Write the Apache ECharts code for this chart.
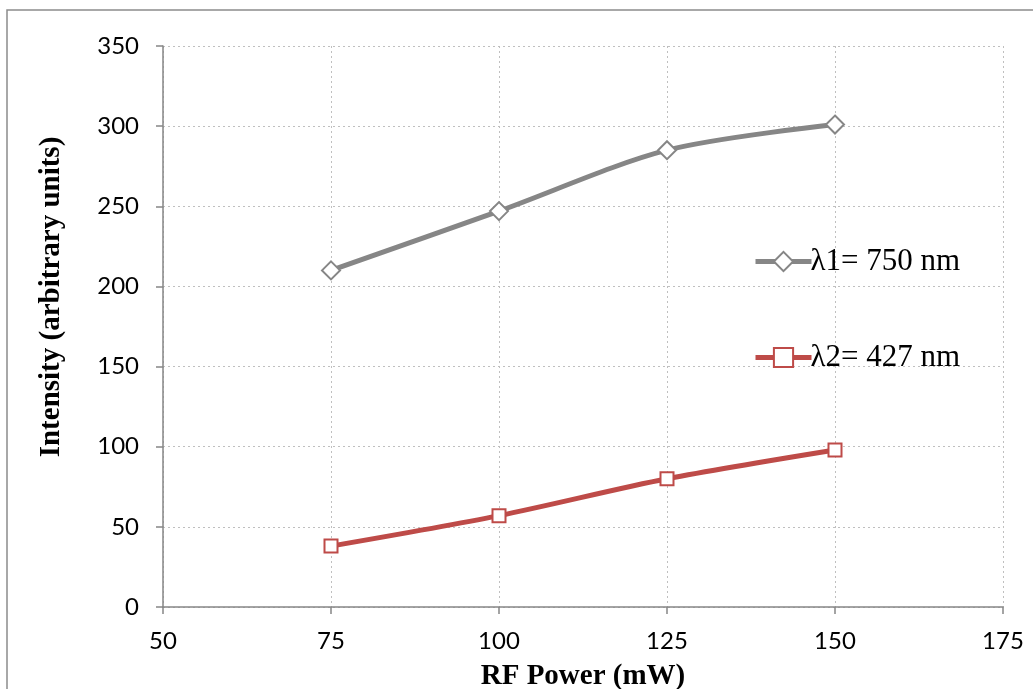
<!DOCTYPE html>
<html><head><meta charset="utf-8">
<script src="https://cdn.jsdelivr.net/npm/echarts@6/dist/echarts.min.js"></script>
<style>html,body{margin:0;padding:0;background:#fff}#c{width:1033px;height:689px}</style>
</head><body><div id="c"></div>
<script>
const rfPower = [75, 100, 125, 150];
const lambda1 = [210, 247, 285, 301];
const lambda2 = [38, 57, 80, 98];
const seriesNames = ['λ1= 750 nm', 'λ2= 427 nm'];
const xTitle = 'RF Power (mW)';
const yTitle = 'Intensity (arbitrary units)';

const chart = echarts.init(document.getElementById('c'));
const tickFont = {fontFamily: 'Lato', fontSize: 24, color: '#000'};
const legendBase = {
  orient: 'vertical', itemWidth: 56, itemHeight: 24,
  textStyle: {fontFamily: 'Liberation Serif', fontSize: 31, color: '#000', padding: [0,0,0,-6]},
  lineStyle: {width: 5},
  selectedMode: false
};
chart.setOption({
  animation: false,
  grid: {left: 163, right: 30, top: 46, bottom: 82},
  legend: [
    Object.assign({}, legendBase, {data: [seriesNames[0]], left: 748, top: 241}),
    Object.assign({}, legendBase, {data: [seriesNames[1]], left: 748, top: 337})
  ],
  xAxis: {
    type: 'value', min: 50, max: 175, interval: 25,
    axisLine: {show: true, lineStyle: {color: '#868686', width: 1.5}},
    axisTick: {show: true, length: 7, lineStyle: {color: '#868686', width: 1.5}},
    axisLabel: Object.assign({margin: 22}, tickFont),
    splitLine: {show: true, lineStyle: {color: '#bfbfbf', type: [2, 3], width: 1}}
  },
  yAxis: {
    type: 'value', min: 0, max: 350, interval: 50,
    axisLine: {show: true, lineStyle: {color: '#868686', width: 1.5}},
    axisTick: {show: true, length: 7, lineStyle: {color: '#868686', width: 1.5}},
    axisLabel: Object.assign({margin: 24}, tickFont),
    splitLine: {show: true, lineStyle: {color: '#bfbfbf', type: [2, 3], width: 1}}
  },
  graphic: [
    {type: 'rect', shape: {x: 7, y: 10, width: 1200, height: 900}, style: {fill: 'none', stroke: '#8c8c8c', lineWidth: 1.5}, z: -1},
    {type: 'text', x: 583, y: 677, style: {text: xTitle, font: 'bold 29px "Liberation Serif"', fill: '#000', align: 'center', verticalAlign: 'middle'}},
    {type: 'text', x: 52, y: 297, rotation: Math.PI / 2, style: {text: yTitle, font: 'bold 29px "Liberation Serif"', fill: '#000', align: 'center', verticalAlign: 'middle'}}
  ],
  series: [
    {
      name: seriesNames[0], type: 'line', smooth: 0.3,
      data: rfPower.map((x, i) => [x, lambda1[i]]),
      lineStyle: {color: '#868686', width: 5},
      symbol: 'diamond', symbolSize: 18,
      itemStyle: {color: '#fff', borderColor: '#868686', borderWidth: 2}
    },
    {
      name: seriesNames[1], type: 'line', smooth: 0.3,
      data: rfPower.map((x, i) => [x, lambda2[i]]),
      lineStyle: {color: '#be4b48', width: 5},
      symbol: 'rect', symbolSize: 13,
      itemStyle: {color: '#fff', borderColor: '#be4b48', borderWidth: 2}
    }
  ]
});
</script></body></html>
